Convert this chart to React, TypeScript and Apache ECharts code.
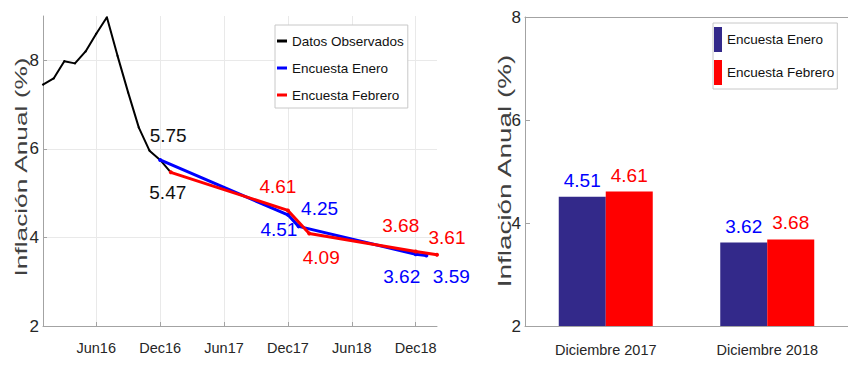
import React, { useEffect, useRef } from 'react';
import * as echarts from 'echarts';

// ---------- data ----------
const months = [
  'Jan16', 'Feb16', 'Mar16', 'Apr16', 'May16', 'Jun16', 'Jul16', 'Aug16', 'Sep16', 'Oct16', 'Nov16', 'Dec16',
  'Jan17', 'Feb17', 'Mar17', 'Apr17', 'May17', 'Jun17', 'Jul17', 'Aug17', 'Sep17', 'Oct17', 'Nov17', 'Dec17',
  'Jan18', 'Feb18', 'Mar18', 'Apr18', 'May18', 'Jun18', 'Jul18', 'Aug18', 'Sep18', 'Oct18', 'Nov18', 'Dec18',
  'Jan19', 'Feb19',
];
const tickMonths = ['Jun16', 'Dec16', 'Jun17', 'Dec17', 'Jun18', 'Dec18'];

const observedMonths = ['Jan16', 'Feb16', 'Mar16', 'Apr16', 'May16', 'Jun16', 'Jul16', 'Aug16', 'Sep16', 'Oct16', 'Nov16', 'Dec16', 'Jan17'];
const observedValues = [7.45, 7.59, 7.98, 7.93, 8.2, 8.6, 8.97, 8.1, 7.27, 6.48, 5.96, 5.75, 5.47];

const eneroMonths = ['Dec16', 'Dec17', 'Jan18', 'Dec18', 'Jan19'];
const eneroValues = [5.75, 4.51, 4.25, 3.62, 3.59];

const febreroMonths = ['Jan17', 'Dec17', 'Feb18', 'Dec18', 'Feb19'];
const febreroValues = [5.47, 4.61, 4.09, 3.68, 3.61];

const barCategories = ['Diciembre 2017', 'Diciembre 2018'];
const eneroBars = [4.51, 3.62];
const febreroBars = [4.61, 3.68];

const seriesNames = ['Datos Observados', 'Encuesta Enero', 'Encuesta Febrero'];
const yTitle = 'Inflación Anual (%)';

// ---------- styles ----------
const FONT = "'Liberation Sans', Arial, sans-serif";
const AXIS_GRAY = '#a3a3a3';
const TICK_TEXT = '#262626';
const GRID_GRAY = '#e9e9e9';
const BLUE = '#0000ff';
const RED = '#ff0000';
const NAVY = '#33298a';

const observedLabelOffsets: Record<string, number[]> = { Dec16: [8, -24], Jan17: [-3, 20] };
const eneroLabelOffsets: Record<string, number[]> = { Dec17: [-9, 15], Jan18: [21, -18], Dec18: [-14, 22], Jan19: [25, 21] };
const febreroLabelOffsets: Record<string, number[]> = { Dec17: [-10, -24], Feb18: [12, 24], Dec18: [-15, -26], Feb19: [10, -17] };

function buildLine(ms: string[], vs: number[], offsets: Record<string, number[]>, color: string) {
  return ms.map((m, i) => {
    const off = offsets[m];
    return {
      value: [m, vs[i]],
      label: off
        ? { show: true, position: 'inside', offset: off, color, fontSize: 19, fontFamily: FONT }
        : { show: false },
    };
  });
}

const isTick = (_i: number, v: string) => tickMonths.includes(v);

export default function App() {
  const ref = useRef<HTMLDivElement>(null);
  useEffect(() => {
    if (!ref.current) return;
    const chart = echarts.init(ref.current, undefined, { renderer: 'svg' });
    const labelFormatter = (p: any) => Number(p.value[1]).toFixed(2);
    chart.setOption({
      animation: false,
      backgroundColor: '#ffffff',
      textStyle: { fontFamily: FONT },
      grid: [
        { left: 43, top: 16, width: 394, height: 310 },
        { left: 525, top: 17, width: 330, height: 309 },
      ],
      xAxis: [
        {
          type: 'category', gridIndex: 0, data: months, boundaryGap: false,
          axisLine: { lineStyle: { color: AXIS_GRAY, width: 1 } },
          axisTick: { inside: true, length: 4, interval: isTick, lineStyle: { color: AXIS_GRAY } },
          axisLabel: { interval: isTick, fontSize: 14.5, margin: 14, color: TICK_TEXT, fontFamily: FONT },
          splitLine: { show: true, interval: isTick, lineStyle: { color: GRID_GRAY } },
        },
        {
          type: 'category', gridIndex: 1, data: barCategories,
          axisLine: { lineStyle: { color: AXIS_GRAY } },
          axisTick: { inside: true, length: 5, alignWithLabel: true, lineStyle: { color: AXIS_GRAY } },
          axisLabel: { fontSize: 14.5, margin: 16, color: TICK_TEXT, fontFamily: FONT },
        },
        {
          type: 'category', gridIndex: 1, data: barCategories, position: 'top',
          axisLine: { lineStyle: { color: AXIS_GRAY } },
          axisTick: { inside: true, length: 5, alignWithLabel: true, lineStyle: { color: AXIS_GRAY } },
          axisLabel: { show: false },
        },
      ],
      yAxis: [
        {
          type: 'value', gridIndex: 0, min: 2, max: 9, interval: 2,
          axisLine: { show: true, lineStyle: { color: AXIS_GRAY } },
          axisTick: { show: true, inside: true, length: 4, lineStyle: { color: AXIS_GRAY } },
          axisLabel: {
            fontSize: 17, margin: 4, color: TICK_TEXT, fontFamily: FONT, showMaxLabel: false,
            formatter: (v: number) => (v % 2 === 0 ? String(v) : ''),
          },
          splitLine: { show: true, lineStyle: { color: [GRID_GRAY, GRID_GRAY, GRID_GRAY, GRID_GRAY, 'rgba(0,0,0,0)'] } },
        },
        {
          type: 'value', gridIndex: 1, min: 2, max: 8, interval: 2,
          axisLine: { show: true, lineStyle: { color: AXIS_GRAY } },
          axisTick: { show: true, inside: true, length: 5, lineStyle: { color: AXIS_GRAY } },
          axisLabel: { fontSize: 17, margin: 4, color: TICK_TEXT, fontFamily: FONT },
          splitLine: { show: false },
        },
      ],
      legend: [
        {
          orient: 'vertical', left: 275, top: 25, padding: [9, 4, 6, 2], itemGap: 13,
          itemWidth: 10, itemHeight: 3, icon: 'rect',
          backgroundColor: '#ffffff', borderColor: '#c8c8c8', borderWidth: 1,
          textStyle: { fontSize: 13.5, color: '#111111', fontFamily: FONT },
          data: [
            { name: seriesNames[0], itemStyle: { color: '#000000' } },
            { name: seriesNames[1], itemStyle: { color: BLUE } },
            { name: seriesNames[2], itemStyle: { color: RED } },
          ],
        },
        {
          orient: 'vertical', left: 713, top: 23, padding: [4, 3, 4, 1], itemGap: 8,
          itemWidth: 8, itemHeight: 25, icon: 'rect',
          backgroundColor: '#ffffff', borderColor: '#c8c8c8', borderWidth: 1,
          textStyle: { fontSize: 13.5, color: '#111111', fontFamily: FONT },
          data: [
            { name: seriesNames[1], itemStyle: { color: NAVY } },
            { name: seriesNames[2], itemStyle: { color: RED } },
          ],
        },
      ],
      graphic: [
        {
          type: 'text', x: 21, y: 167, rotation: Math.PI / 2, scaleX: 1.46, scaleY: 0.92,
          style: { text: yTitle, font: "18px 'Liberation Sans', Arial, sans-serif", fill: '#404040', align: 'center', verticalAlign: 'middle' },
        },
        {
          type: 'text', x: 505, y: 171, rotation: Math.PI / 2, scaleX: 1.55, scaleY: 1,
          style: { text: yTitle, font: "18px 'Liberation Sans', Arial, sans-serif", fill: '#404040', align: 'center', verticalAlign: 'middle' },
        },
      ],
      series: [
        {
          name: seriesNames[0], type: 'line', xAxisIndex: 0, yAxisIndex: 0,
          data: buildLine(observedMonths, observedValues, observedLabelOffsets, '#111111'),
          symbol: 'circle', symbolSize: 2, showSymbol: true,
          itemStyle: { color: '#000000' }, lineStyle: { color: '#000000', width: 2 },
          label: { formatter: labelFormatter }, z: 3,
        },
        {
          name: seriesNames[1], type: 'line', xAxisIndex: 0, yAxisIndex: 0,
          data: buildLine(eneroMonths, eneroValues, eneroLabelOffsets, BLUE),
          symbol: 'circle', symbolSize: 4, showSymbol: true,
          itemStyle: { color: BLUE }, lineStyle: { color: BLUE, width: 3 },
          label: { formatter: labelFormatter }, z: 4,
        },
        {
          name: seriesNames[2], type: 'line', xAxisIndex: 0, yAxisIndex: 0,
          data: buildLine(febreroMonths, febreroValues, febreroLabelOffsets, RED),
          symbol: 'circle', symbolSize: 4, showSymbol: true,
          itemStyle: { color: RED }, lineStyle: { color: RED, width: 3 },
          label: { formatter: labelFormatter }, z: 5,
        },
        {
          name: seriesNames[1], type: 'bar', xAxisIndex: 1, yAxisIndex: 1,
          data: eneroBars, barWidth: 47, barGap: '0%',
          itemStyle: { color: NAVY },
          label: { show: true, position: 'top', distance: 7, color: BLUE, fontSize: 19, fontFamily: FONT, formatter: (p: any) => Number(p.value).toFixed(2) },
        },
        {
          name: seriesNames[2], type: 'bar', xAxisIndex: 1, yAxisIndex: 1,
          data: febreroBars, barWidth: 47, barGap: '0%',
          itemStyle: { color: RED },
          label: { show: true, position: 'top', distance: 7, color: RED, fontSize: 19, fontFamily: FONT, formatter: (p: any) => Number(p.value).toFixed(2) },
        },
      ],
    });
    return () => chart.dispose();
  }, []);
  return (
    <div
      ref={ref}
      style={{ position: 'fixed', left: 0, top: 0, width: 848, height: 365, background: '#ffffff' }}
    />
  );
}
